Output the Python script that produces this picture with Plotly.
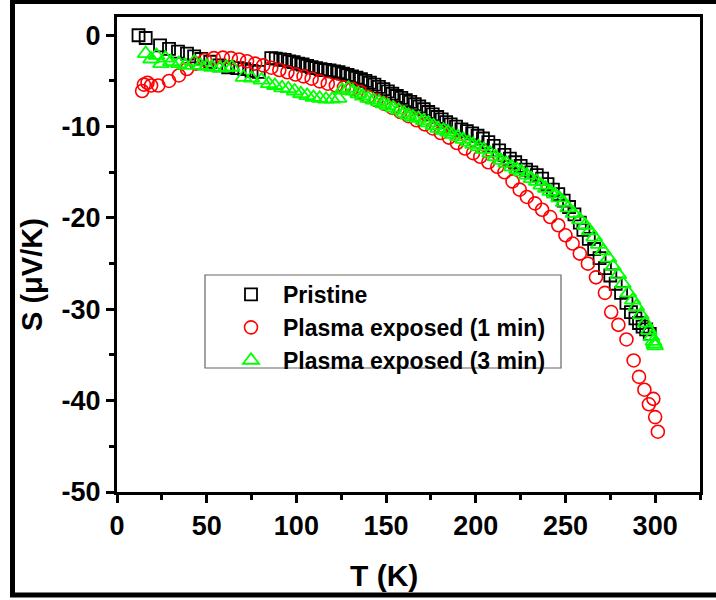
import plotly.graph_objects as go

# ---- data ----
T_pristine = [12, 16, 24, 29, 34, 39, 43, 47, 52, 57, 62, 67, 71, 75, 79,
              86, 88.5, 91, 93.5, 96, 98.5, 101, 103.5, 106, 108.5, 111, 113.5, 116, 118.5,
              121, 123.5, 126, 128.5, 131, 133.5, 136, 138.5, 141, 143.5, 146, 148.5, 151,
              153.5, 156, 158.5, 161, 163.5, 166, 168.5, 171, 173.5, 176, 178.5, 181, 183.5,
              186, 189, 192, 195, 198, 201, 204, 207, 210, 213, 216, 219, 222, 225, 228, 231,
              234, 237, 240, 243, 246, 249, 252, 255, 258, 260, 263, 266, 269, 272, 275, 278,
              281, 284, 286.5, 289, 291, 293, 295, 297]
S_pristine = [0.0, -0.3, -1.1, -1.5, -1.8, -2.0, -2.3, -2.6, -2.9, -3.3, -3.5, -3.6, -3.7, -3.9, -4.0,
              -2.5, -2.55, -2.65, -2.7, -2.85, -2.95, -3.1, -3.2, -3.35, -3.5, -3.6, -3.7, -3.8, -3.85,
              -3.95, -4.05, -4.2, -4.35, -4.5, -4.65, -4.8, -5.0, -5.2, -5.4, -5.65, -5.9, -6.15,
              -6.4, -6.65, -6.85, -7.1, -7.3, -7.55, -7.8, -8.1, -8.4, -8.65, -8.95, -9.2, -9.5,
              -9.75, -10.0, -10.3, -10.5, -10.75, -11.0, -11.3, -11.7, -12.1, -12.6, -13.1, -13.5,
              -13.9, -14.3, -14.7, -15.0, -15.3, -15.7, -16.3, -16.9, -17.4, -18.1, -18.8, -19.6,
              -20.5, -21.3, -22.3, -23.4, -24.4, -25.5, -26.3, -27.2, -28.2, -29.3, -30.3, -31.0,
              -31.5, -31.9, -32.2, -32.7]

T_1min = [14, 15, 17, 19, 23, 29, 34.5, 39, 44, 49, 54, 59, 63.5, 68, 72.5, 77, 81.5, 86,
          90.5, 95, 99.5, 104, 108.5, 113, 117.5, 122, 126.5, 131, 135.5, 140, 144.5, 149,
          153.5, 158, 162.5, 167, 171.5, 176, 180.5, 185, 189.5, 194, 198.5, 202.5, 207,
          212, 216, 220.5, 224.5, 228.5, 233, 237, 241.5, 246, 250, 254, 258, 262.5, 267,
          272, 275.5, 279.5, 284, 288, 291, 294, 296.5, 299, 300, 301.5]
S_1min = [-6.1, -5.4, -5.2, -5.5, -5.5, -5.0, -4.4, -3.7, -3.1, -2.7, -2.5, -2.45, -2.5, -2.65,
          -2.85, -3.1, -3.3, -3.55, -3.8, -4.05, -4.3, -4.5, -4.75, -5.05, -5.3, -5.5, -5.7,
          -5.85, -6.2, -6.75, -7.1, -7.5, -7.95, -8.4, -8.85, -9.3, -9.75, -10.2, -10.7, -11.2,
          -11.8, -12.4, -12.9, -13.3, -13.9, -14.4, -15.0, -16.0, -16.9, -17.7, -18.4, -19.1,
          -19.9, -20.8, -21.9, -22.8, -23.9, -25.0, -26.5, -28.2, -30.3, -31.7, -33.3, -35.6,
          -37.4, -38.8, -40.4, -39.8, -41.8, -43.4]

T_3min = [16, 19, 22, 24.5, 27, 30, 34.5, 38, 43, 46.5, 50, 53, 57.5, 61, 64, 70.5, 75, 80.5,
          84.5, 88, 92, 95.5, 99, 102.5, 106, 109.5, 113, 116.5, 120, 123.5, 125.5, 129, 131.5,
          134.5, 137, 140, 143, 146, 148.5, 151, 154, 157, 160, 162.5, 165, 168, 171, 173.5,
          176.5, 179, 182, 184.5, 187, 190, 193, 196, 198.5, 201.5, 204.5, 208, 211, 214, 217,
          220, 223, 225.5, 228.5, 231, 234, 236.5, 239, 241.5, 244, 246.5, 249, 251.5, 254.5,
          258, 261, 263.5, 266, 268.5, 271, 274, 276.5, 279.5, 282, 285, 287.5, 289.5, 292,
          294.5, 296.5, 298, 299, 299.5, 300]
S_3min = [-2.0, -2.6, -2.2, -3.1, -2.5, -2.9, -3.1, -3.3, -2.9, -3.3, -3.4, -3.5, -3.6, -3.5,
          -3.5, -4.6, -4.7, -4.9, -5.3, -5.5, -5.75, -5.85, -6.1, -6.4, -6.6, -6.8, -6.9, -7.0,
          -7.0, -6.9, -6.0, -5.8, -6.1, -6.4, -6.65, -6.9, -7.1, -7.3, -7.5, -7.7, -7.95, -8.2,
          -8.5, -8.75, -8.95, -9.1, -9.35, -9.6, -9.9, -10.2, -10.4, -10.6, -10.85, -11.1, -11.4,
          -11.7, -11.95, -12.2, -12.5, -12.9, -13.3, -13.7, -14.0, -14.4, -14.7, -14.95, -15.3,
          -15.7, -16.0, -16.4, -16.75, -17.1, -17.4, -17.8, -18.3, -18.9, -19.5, -20.2, -20.8,
          -21.4, -22.1, -22.9, -23.6, -24.4, -25.3, -26.2, -27.2, -28.2, -29.0, -29.7, -30.6,
          -31.5, -32.3, -33.0, -33.5, -33.8, -34.0]

x_ticks = [0, 50, 100, 150, 200, 250, 300]
x_ticklabels = ["0", "50", "100", "150", "200", "250", "300"]
y_ticks = [0, -10, -20, -30, -40, -50]
y_ticklabels = ["0", "-10", "-20", "-30", "-40", "-50"]
series_names = ["Pristine", "Plasma exposed (1 min)", "Plasma exposed (3 min)"]

FONT = "Liberation Sans, Arial, sans-serif"

fig = go.Figure()
fig.add_trace(go.Scatter(x=T_pristine, y=S_pristine, mode="markers", name=series_names[0],
                         marker=dict(symbol="square-open", size=12, color="black",
                                     line=dict(width=1.8, color="black"))))
fig.add_trace(go.Scatter(x=T_1min, y=S_1min, mode="markers", name=series_names[1],
                         marker=dict(symbol="circle-open", size=13, color="#FF0000",
                                     line=dict(width=1.6, color="#FF0000"))))
fig.add_trace(go.Scatter(x=T_3min, y=S_3min, mode="markers", name=series_names[2],
                         marker=dict(symbol="triangle-up-open", size=14, color="#00FF00",
                                     line=dict(width=1.8, color="#00FF00"))))

# plot area: x 117..700, y 17..492 px
L, R, TOP, BOT = 117, 700, 17, 492
W, H = 716, 600
def px(x):
    return (x - L) / (R - L)
def py(y):
    return (BOT - y) / (BOT - TOP)

axis_common = dict(showgrid=False, zeroline=False, showline=True, linecolor="black",
                   linewidth=3, mirror=True, ticks="outside", ticklen=8, tickwidth=2.5,
                   tickcolor="black",
                   tickfont=dict(family=FONT, size=27, color="black", weight="bold"))

fig.update_layout(
    width=W, height=H,
    margin=dict(l=L, r=W - R, t=TOP, b=H - BOT),
    paper_bgcolor="white", plot_bgcolor="white",
    xaxis=dict(range=[0, 325], tickmode="array", tickvals=x_ticks, ticktext=x_ticklabels,
               minor=dict(dtick=25, tick0=0, ticks="outside", ticklen=5, tickwidth=2.5,
                          tickcolor="black"),
               **axis_common),
    yaxis=dict(range=[-50, 2], tickmode="array", tickvals=y_ticks, ticktext=y_ticklabels,
               minor=dict(dtick=5, tick0=0, ticks="outside", ticklen=5, tickwidth=2.5,
                          tickcolor="black"),
               **axis_common),
    showlegend=True,
    legend=dict(x=px(219), xanchor="left", y=py(273), yanchor="top",
                bgcolor="rgba(0,0,0,0)", borderwidth=0, itemwidth=54,
                tracegroupgap=0, itemsizing="trace",
                font=dict(family=FONT, size=23, color="black", weight="bold")),
    shapes=[
        # legend box
        dict(type="rect", xref="paper", yref="paper", x0=px(205), x1=px(561),
             y0=py(368), y1=py(275), line=dict(color="#666666", width=1.2)),
        # outer frame
        dict(type="rect", xref="paper", yref="paper", x0=px(12.5), x1=px(719),
             y0=py(595), y1=py(1.5), line=dict(color="black", width=5)),
    ],
    annotations=[
        dict(text="T (K)", xref="paper", yref="paper", x=px(384), y=py(575),
             showarrow=False, xanchor="center", yanchor="middle",
             font=dict(family=FONT, size=30, color="black", weight="bold")),
        dict(text="S (μV/K)", xref="paper", yref="paper", x=px(32), y=py(275),
             showarrow=False, xanchor="center", yanchor="middle", textangle=-90,
             font=dict(family=FONT, size=29, color="black", weight="bold")),
    ],
)

fig.write_html("out.html")
